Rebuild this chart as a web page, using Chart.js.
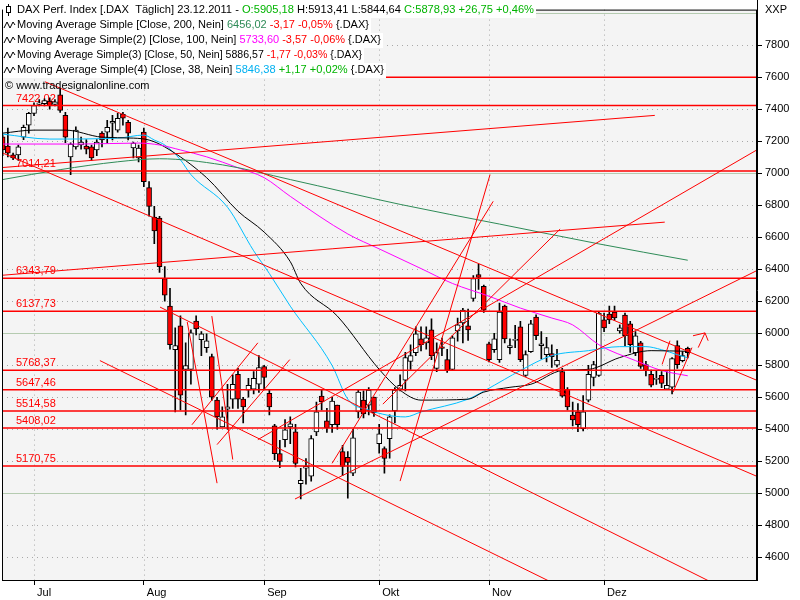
<!DOCTYPE html>
<html>
<head>
<meta charset="utf-8">
<script src="https://cdn.jsdelivr.net/npm/chart.js@4.4.0/dist/chart.umd.min.js"></script>
<style>
  html, body { margin: 0; padding: 0; background: #fff; }
</style>
</head>
<body>
<canvas id="chart" width="800" height="600"></canvas>
<script>
// trading days 23.06.2011 - 23.12.2011 (index 0 = 01.07.)
const dates = [
  '23.06', '24.06', '27.06', '28.06', '29.06', '30.06',
  '01.07', '04.07', '05.07', '06.07', '07.07', '08.07', '11.07', '12.07', '13.07', '14.07', '15.07',
  '18.07', '19.07', '20.07', '21.07', '22.07', '25.07', '26.07', '27.07', '28.07', '29.07',
  '01.08', '02.08', '03.08', '04.08', '05.08', '08.08', '09.08', '10.08', '11.08', '12.08', '15.08', '16.08',
  '17.08', '18.08', '19.08', '22.08', '23.08', '24.08', '25.08', '26.08', '29.08', '30.08', '31.08',
  '01.09', '02.09', '05.09', '06.09', '07.09', '08.09', '09.09', '12.09', '13.09', '14.09', '15.09',
  '16.09', '19.09', '20.09', '21.09', '22.09', '23.09', '26.09', '27.09', '28.09', '29.09', '30.09',
  '03.10', '04.10', '05.10', '06.10', '07.10', '10.10', '11.10', '12.10', '13.10', '14.10', '17.10',
  '18.10', '19.10', '20.10', '21.10', '24.10', '25.10', '26.10', '27.10', '28.10', '31.10',
  '01.11', '02.11', '03.11', '04.11', '07.11', '08.11', '09.11', '10.11', '11.11', '14.11', '15.11',
  '16.11', '17.11', '18.11', '21.11', '22.11', '23.11', '24.11', '25.11', '28.11', '29.11', '30.11',
  '01.12', '02.12', '05.12', '06.12', '07.12', '08.12', '09.12', '12.12', '13.12', '14.12', '15.12',
  '16.12', '19.12', '20.12', '21.12', '22.12', '23.12'
];
const firstIdx = -6;

const open = [
  7227, 7170, 7114, 7114, 7225, 7300,
  7374, 7430, 7435, 7450, 7430, 7490, 7361, 7102, 7164, 7176, 7170, 7164, 7145, 7250, 7256, 7312, 7269, 7368, 7318, 7157, 7096,
  7256, 6910, 6725, 6719, 6342, 6169, 5897, 6046, 5774, 5774, 6076, 5959, 5910, 5854, 5582, 5415, 5525, 5588, 5743, 5588, 5644, 5650, 5681,
  5792, 5625, 5421, 5248, 5335, 5415, 5384, 5060, 5156, 5106, 5384, 5607, 5452, 5428, 5551, 5261, 5224, 5125, 5508, 5582, 5551, 5601,
  5310, 5279, 5341, 5514, 5650, 5706, 5823, 5879, 5965, 5940, 6021, 5780, 5915, 5835, 5774, 6014, 6064, 6046, 6218, 6367, 6293,
  5934, 5897, 5835, 6169, 5910, 5955, 6040, 5737, 5885, 6101, 5922, 5866, 5872, 5800, 5761, 5650, 5489, 5508, 5403, 5582, 5724, 5737,
  6083, 6120, 6132, 6015, 6114, 6058, 5879, 5940, 5804, 5743, 5712, 5737, 5650, 5663, 5922, 5829, 5905
];
const high = [
  7240, 7281, 7125, 7176, 7300, 7380,
  7440, 7460, 7465, 7470, 7460, 7528, 7380, 7190, 7290, 7225, 7210, 7176, 7210, 7260, 7330, 7361, 7374, 7380, 7330, 7195, 7176,
  7281, 6947, 6793, 6731, 6416, 6280, 6034, 6108, 5940, 6021, 6108, 6010, 5996, 5870, 5600, 5540, 5680, 5740, 5780, 5600, 5718, 5760, 5860,
  5800, 5650, 5430, 5330, 5460, 5477, 5430, 5156, 5217, 5360, 5570, 5650, 5530, 5600, 5551, 5300, 5260, 5400, 5650, 5640, 5660, 5601,
  5430, 5290, 5490, 5660, 5740, 5880, 5928, 6040, 6040, 6040, 6090, 5940, 5970, 5900, 5984, 6095, 6155, 6150, 6360, 6430, 6300,
  5945, 6000, 6188, 6175, 5965, 6050, 6075, 5890, 6080, 6115, 6010, 5975, 5928, 5900, 5780, 5660, 5570, 5560, 5610, 5800, 5825, 6136,
  6126, 6170, 6170, 6052, 6126, 6075, 6010, 5950, 5825, 5770, 5765, 5760, 5760, 5848, 5953, 5885, 5913
];
const low = [
  7110, 7102, 7085, 7080, 7210, 7250,
  7360, 7420, 7420, 7400, 7420, 7380, 7190, 6990, 7150, 7150, 7120, 7080, 7110, 7164, 7188, 7207, 7256, 7300, 7207, 7096, 7070,
  6916, 6731, 6559, 6380, 6200, 5900, 5508, 5520, 5489, 5681, 5990, 5860, 5880, 5580, 5400, 5415, 5400, 5530, 5530, 5440, 5600, 5620, 5630,
  5650, 5490, 5210, 5160, 5290, 5310, 5165, 4964, 5057, 5075, 5360, 5520, 5380, 5380, 5400, 5110, 4970, 5110, 5470, 5470, 5490, 5480,
  5250, 5125, 5220, 5440, 5640, 5640, 5774, 5860, 5890, 5900, 5835, 5760, 5860, 5755, 5767, 5950, 5940, 5955, 6200, 6274, 6130,
  5820, 5880, 5817, 5940, 5870, 5910, 5822, 5730, 5880, 5960, 5840, 5820, 5786, 5790, 5600, 5520, 5420, 5385, 5390, 5570, 5670, 5730,
  6010, 6060, 6080, 6000, 5920, 5880, 5860, 5780, 5733, 5665, 5680, 5660, 5650, 5620, 5780, 5820, 5845
];
const close = [
  7145, 7125, 7096, 7164, 7287, 7374,
  7423, 7440, 7454, 7420, 7445, 7392, 7225, 7182, 7269, 7195, 7150, 7096, 7195, 7207, 7287, 7324, 7343, 7343, 7250, 7188, 7157,
  6947, 6793, 6639, 6416, 6237, 5928, 5922, 5613, 5798, 6002, 6027, 5996, 5953, 5600, 5477, 5477, 5540, 5681, 5588, 5539, 5675, 5718, 5786,
  5724, 5539, 5248, 5199, 5397, 5434, 5187, 5080, 5168, 5341, 5508, 5570, 5409, 5576, 5428, 5168, 5193, 5347, 5632, 5496, 5644, 5502,
  5372, 5217, 5477, 5644, 5675, 5848, 5860, 5996, 5928, 5971, 5860, 5879, 5905, 5767, 5971, 6052, 6144, 6021, 6342, 6348, 6144,
  5835, 5965, 6132, 5965, 5922, 5962, 5835, 5866, 6058, 5984, 5934, 5910, 5854, 5830, 5607, 5539, 5458, 5428, 5508, 5743, 5804, 6126,
  6033, 6083, 6095, 6033, 5984, 5928, 5984, 5792, 5767, 5675, 5718, 5687, 5675, 5841, 5804, 5860, 5879
];

// moving averages at a few days each
const ma200X = [-6, 5, 16, 24, 36, 49, 70, 89, 108, 125];
const ma200Y = [6960, 7022, 7071, 7090, 7052, 6960, 6805, 6682, 6558, 6456];
const ma100X = [-6, 9, 20, 24, 28, 33, 39, 44, 49, 60, 66, 74, 80, 87, 93, 99, 103, 108, 115, 120, 125];
const ma100Y = [7182, 7182, 7188, 7176, 7145, 7102, 7034, 6972, 6855, 6620, 6527, 6404, 6311, 6231, 6157, 6095, 6052, 5928, 5829, 5767, 5734];
const ma50X = [-6, 0, 6, 13, 19, 22, 25, 33, 39, 44, 49, 51, 58, 66, 70, 74, 83, 86, 91, 95, 101, 106, 112, 118, 125];
const ma50Y = [7250, 7269, 7269, 7225, 7219, 7207, 7164, 6972, 6762, 6632, 6447, 6311, 6107, 5774, 5644, 5582, 5588, 5632, 5662, 5681, 5767, 5774, 5848, 5891, 5887];
const ma38X = [-6, 3, 16, 21, 23, 25, 28, 30, 37, 42, 45, 49, 57, 60, 64, 71, 74, 83, 86, 90, 93, 99, 106, 112, 117, 120, 123, 125];
const ma38Y = [7244, 7213, 7219, 7238, 7207, 7176, 7083, 6991, 6787, 6515, 6373, 6169, 5798, 5588, 5520, 5477, 5508, 5588, 5638, 5712, 5767, 5860, 5891, 5916, 5916, 5897, 5866, 5846];

// horizontal support / resistance levels
const levels = [7600, 7422.02, 7014.21, 6343.79, 6137.73, 5768.37, 5647.46, 5514.58, 5408.02, 5170.75];
const levelLabels = [null, '7422,02', '7014,21', '6343,79', '6137,73', '5768,37', '5647,46', '5514,58', '5408,02', '5170,75'];

// trend lines: [day1, value1, day2, value2]
const trendLines = [
  [2.1, 7571, 138.2, 5706],
  [-6.5, 7133, 138.2, 5106],
  [12.6, 5829, 100, 4427],
  [24.1, 6163, 131, 4420],
  [-6.5, 7034, 118.7, 7361],
  [-6.5, 6361, 120.6, 6694],
  [49.9, 4964, 138.2, 6391],
  [42.8, 5335, 138.2, 7145],
  [57, 5187, 87.8, 6824],
  [70, 5076, 87.2, 6991],
  [66.7, 5557, 100.6, 6651],
  [29.3, 6070, 35, 5063],
  [34, 6107, 38, 5211],
  [30.2, 5428, 42.8, 5940],
  [35, 5304, 48.9, 5835],
  [120.1, 5805, 121.6, 5953],
  [122.2, 5632, 125.8, 5910],
  [127, 5910, 128.3, 6002],
  [126, 5984, 128.3, 6002],
  [128.3, 6002, 128.9, 5953]
];

const monthIdx = [0, 21, 44, 66, 87, 109];
const monthNames = ['Jul', 'Aug', 'Sep', 'Okt', 'Nov', 'Dez'];
const yTicks = [4600, 4800, 5000, 5200, 5400, 5600, 5800, 6000, 6200, 6400, 6600, 6800, 7000, 7200, 7400, 7600, 7800];
const majorGrid = [5000, 6000, 7000, 8000];

const xMin = -6.12, xMax = 138.24;
const yMin = 4458, yMax = 8022;

const legendRows = [
  { icon: 'candle', end: 534, parts: [['DAX Perf. Index [.DAX  Täglich] 23.12.2011 - ', '#000000'], ['O:5905,18', '#00b400'], [' H:5913,41 L:5844,64 ', '#000000'], ['C:5878,93 +26,75 +0,46%', '#00b400']] },
  { icon: 'wave', end: 369, parts: [['Moving Average Simple [Close, 200, Nein] ', '#000000'], ['6456,02', '#2e8b57'], [' -3,17 -0,05%', '#ff0000'], [' {.DAX}', '#000000']] },
  { icon: 'wave', end: 381, parts: [['Moving Average Simple(2) [Close, 100, Nein] ', '#000000'], ['5733,60', '#ff00ff'], [' -3,57 -0,06%', '#ff0000'], [' {.DAX}', '#000000']] },
  { icon: 'wave', end: 362, parts: [['Moving Average Simple(3) [Close, 50, Nein] ', '#000000'], ['5886,57', '#000000'], [' -1,77 -0,03%', '#ff0000'], [' {.DAX}', '#000000']] },
  { icon: 'wave', end: 384, parts: [['Moving Average Simple(4) [Close, 38, Nein] ', '#000000'], ['5846,38', '#00b0f0'], [' +1,17 +0,02%', '#00b400'], [' {.DAX}', '#000000']] }
];

const FONT = '11px "Liberation Sans", Arial, sans-serif';
Chart.defaults.font.family = '"Liberation Sans", Arial, sans-serif';
Chart.defaults.font.size = 11;
Chart.defaults.color = '#000';

const wickData = dates.map((d, i) => ({ x: i + firstIdx, y: [low[i], high[i]] }));
const bodyData = dates.map((d, i) => ({ x: i + firstIdx, y: [open[i], close[i]] }));
const bodyColors = dates.map((d, i) => close[i] < open[i] ? '#ff0000' : '#ffffff');

function maSet(xs, ys, color) {
  return {
    type: 'line', data: xs.map((x, i) => ({ x: x, y: ys[i] })),
    borderColor: color, borderWidth: 1, pointRadius: 0, fill: false,
    cubicInterpolationMode: 'monotone', order: 5
  };
}

const levelSets = levels.map(v => ({
  type: 'line', data: [{ x: xMin, y: v }, { x: xMax, y: v }],
  borderColor: '#ff0000', borderWidth: 1.5, pointRadius: 0, fill: false, order: 2
}));
const trendSets = trendLines.map(t => ({
  type: 'line', data: [{ x: t[0], y: t[1] }, { x: t[2], y: t[3] }],
  borderColor: '#ff0000', borderWidth: 1, pointRadius: 0, fill: false, order: 1
}));

const decor = {
  id: 'decor',
  beforeDraw(chart) {
    const { ctx, chartArea: a } = chart;
    ctx.save();
    ctx.fillStyle = '#ffffff';
    ctx.fillRect(0, 0, chart.width, chart.height);
    ctx.fillStyle = '#f4f4f4';
    ctx.fillRect(a.left, a.top, a.right - a.left, a.bottom - a.top);
    ctx.restore();
  },
  beforeDatasetsDraw(chart) {
    const { ctx, chartArea: a, scales: { x, y } } = chart;
    ctx.save();
    ctx.lineWidth = 1;
    ctx.strokeStyle = '#a8a8a8';
    ctx.setLineDash([1, 4]);
    yTicks.forEach(v => {
      if (majorGrid.includes(v)) return;
      const py = Math.round(y.getPixelForValue(v)) + 0.5;
      ctx.beginPath(); ctx.moveTo(a.left, py); ctx.lineTo(a.right, py); ctx.stroke();
    });
    monthIdx.forEach(v => {
      const px = Math.round(x.getPixelForValue(v)) + 0.5;
      ctx.beginPath(); ctx.moveTo(px, a.top); ctx.lineTo(px, a.bottom); ctx.stroke();
    });
    ctx.setLineDash([]);
    ctx.strokeStyle = '#b5cbb0';
    majorGrid.forEach(v => {
      const py = Math.round(y.getPixelForValue(v)) + 0.5;
      ctx.beginPath(); ctx.moveTo(a.left, py); ctx.lineTo(a.right, py); ctx.stroke();
    });
    // level labels
    ctx.font = FONT;
    ctx.fillStyle = '#ff0000';
    ctx.textBaseline = 'middle';
    levels.forEach((v, i) => {
      if (!levelLabels[i]) return;
      ctx.fillText(levelLabels[i], 16, y.getPixelForValue(v) - 7);
    });
    ctx.restore();
  },
  afterDraw(chart) {
    const { ctx, chartArea: a } = chart;
    ctx.save();
    ctx.strokeStyle = '#000';
    ctx.lineWidth = 1;
    ctx.strokeRect(a.left + 0.5, a.top + 0.5, a.right - a.left - 1, a.bottom - a.top);
    ctx.beginPath(); ctx.moveTo(a.right + 0.5, 0); ctx.lineTo(a.right + 0.5, a.bottom + 1); ctx.stroke();

    ctx.font = FONT;
    ctx.textBaseline = 'middle';
    legendRows.forEach((row, r) => {
      const yc = 10 + r * 15;
      const startX = 17;
      const total = row.parts.reduce((s, p) => s + ctx.measureText(p[0]).width, 0);
      const sx = (row.end - startX) / total;
      ctx.fillStyle = '#ffffff';
      ctx.fillRect(3, yc - 7, row.end + 2 - 3, 15);
      ctx.strokeStyle = '#000';
      ctx.lineWidth = 1;
      if (row.icon === 'candle') {
        ctx.beginPath(); ctx.moveTo(8.5, yc - 6); ctx.lineTo(8.5, yc + 6); ctx.stroke();
        ctx.fillStyle = '#fff';
        ctx.fillRect(6.5, yc - 3.5, 4, 6);
        ctx.strokeRect(6.5, yc - 3.5, 4, 6);
      } else {
        ctx.beginPath();
        ctx.moveTo(4, yc + 3); ctx.lineTo(7, yc - 3); ctx.lineTo(10, yc + 3); ctx.lineTo(13, yc - 3); ctx.lineTo(15, yc);
        ctx.stroke();
      }
      ctx.save();
      ctx.translate(startX, 0);
      ctx.scale(sx, 1);
      let cx = 0;
      row.parts.forEach(p => {
        ctx.fillStyle = p[1];
        ctx.fillText(p[0], cx, yc);
        cx += ctx.measureText(p[0]).width;
      });
      ctx.restore();
    });
    ctx.fillStyle = '#000';
    ctx.fillText('\u00a9 www.tradesignalonline.com', 5, 86);
    ctx.fillText('XXP', 765, 10);
    ctx.restore();
  }
};

new Chart(document.getElementById('chart').getContext('2d'), {
  type: 'bar',
  data: {
    datasets: [
      { type: 'bar', data: wickData, backgroundColor: '#000000', barThickness: 1, grouped: false, order: 20 },
      { type: 'bar', data: bodyData, backgroundColor: bodyColors, borderColor: '#000000', borderWidth: 1,
        borderSkipped: false, barThickness: 5, grouped: false, order: 19 },
      maSet(ma200X, ma200Y, '#2e8b57'),
      maSet(ma100X, ma100Y, '#ff00ff'),
      maSet(ma50X, ma50Y, '#000000'),
      maSet(ma38X, ma38Y, '#00bfff'),
      ...levelSets,
      ...trendSets
    ]
  },
  options: {
    responsive: false,
    animation: false,
    events: [],
    layout: { padding: { left: 2, top: 3, right: 0, bottom: 0 } },
    plugins: { legend: { display: false }, tooltip: { enabled: false } },
    scales: {
      x: {
        type: 'linear', min: xMin, max: xMax, offset: false,
        afterBuildTicks(scale) { scale.ticks = monthIdx.map(v => ({ value: v })); },
        afterFit(scale) { scale.height = 20; },
        grid: { drawOnChartArea: false, offset: false, tickLength: 5, tickColor: '#000' },
        border: { display: false },
        ticks: {
          align: 'start', labelOffset: 3, padding: 1, maxRotation: 0, autoSkip: false,
          callback: v => monthNames[monthIdx.indexOf(v)] || ''
        }
      },
      y: {
        type: 'linear', position: 'right', min: yMin, max: yMax,
        afterBuildTicks(scale) { scale.ticks = yTicks.map(v => ({ value: v })); },
        afterFit(scale) { scale.width = 43; },
        grid: { drawOnChartArea: false, tickLength: 5, tickColor: '#000' },
        border: { display: false },
        ticks: { padding: 3, autoSkip: false, callback: v => String(v) }
      }
    }
  },
  plugins: [decor]
});
</script>
</body>
</html>
